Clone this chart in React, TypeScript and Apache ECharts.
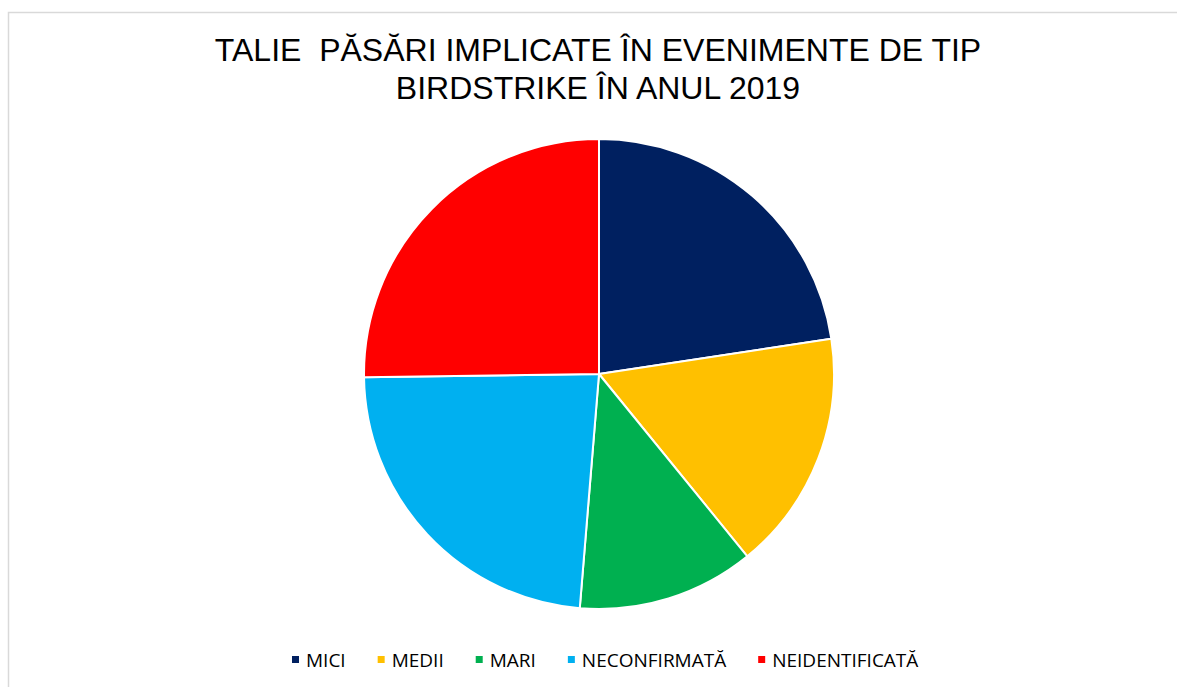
import React, { useEffect, useRef } from "react";
import * as echarts from "echarts";

const categories = ["MICI", "MEDII", "MARI", "NECONFIRMATĂ", "NEIDENTIFICATĂ"];
const values = [26, 19, 14, 27, 29];
const colors = ["#002060", "#FFC000", "#00B050", "#00B0F0", "#FF0000"];
const titleLines = ["TALIE  PĂSĂRI IMPLICATE ÎN EVENIMENTE DE TIP", "BIRDSTRIKE ÎN ANUL 2019"];

export default function App() {
  const ref = useRef<HTMLDivElement>(null);
  useEffect(() => {
    document.body.style.margin = "0";
    const chart = echarts.init(ref.current!, null, { renderer: "svg" });
    chart.setOption({
      animation: false,
      backgroundColor: "#ffffff",
      legend: {
        top: 650,
        left: 290,
        padding: 0,
        itemWidth: 9,
        itemHeight: 9,
        itemGap: 30,
        icon: "rect",
        textStyle: {
          fontFamily: "Open Sans, sans-serif",
          fontSize: 19,
          color: "#000000",
          padding: [0, 0, 0, 1],
        },
        data: categories,
      },
      graphic: [
        {
          type: "rect",
          shape: { x: 8.5, y: 12.5, width: 1200, height: 700 },
          style: { fill: "none", stroke: "#d9d9d9", lineWidth: 1.5 },
          silent: true,
        },
        {
          type: "text",
          x: 598,
          y: 31,
          silent: true,
          style: {
            text: titleLines.join("\n"),
            fill: "#000000",
            font: "32px 'Liberation Sans', Arial, sans-serif",
            lineHeight: 38,
            align: "center",
            verticalAlign: "top",
          },
        },
      ],
      series: [
        {
          type: "pie",
          center: [599, 374],
          radius: 235,
          startAngle: 90,
          clockwise: true,
          label: { show: false },
          labelLine: { show: false },
          itemStyle: { borderColor: "#ffffff", borderWidth: 2 },
          emphasis: { disabled: true },
          data: categories.map((name, i) => ({
            name,
            value: values[i],
            itemStyle: { color: colors[i] },
          })),
        },
      ],
    });
    return () => chart.dispose();
  }, []);
  return <div ref={ref} style={{ width: 1177, height: 687 }} />;
}
